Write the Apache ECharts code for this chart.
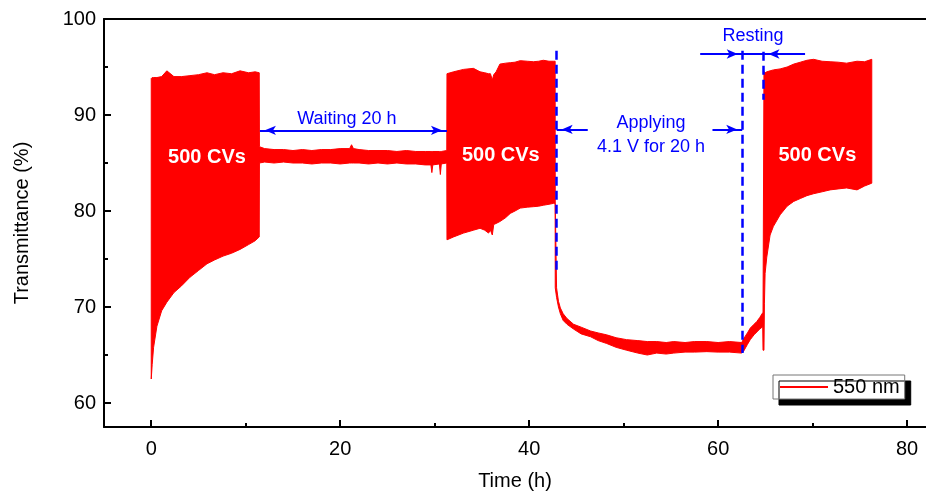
<!DOCTYPE html>
<html>
<head>
<meta charset="utf-8">
<title>Transmittance</title>
<script src="https://cdn.jsdelivr.net/npm/echarts@6/dist/echarts.min.js"></script>
<style>
  html, body { margin: 0; padding: 0; background: #fff; }
  #chart { width: 926px; height: 495px; }
</style>
</head>
<body>
<div id="chart"></div>
<script>
  // envelope of the 550 nm trace (time in h, min / max transmittance in %)
  let envTime = [
    0, 0.1, 0.25, 0.6, 1.1, 1.65, 2.4, 3.2, 4.1, 5.0, 5.9, 6.7, 7.6, 8.5, 9.4, 10.3, 11.0, 11.43,
    11.45, 12, 13, 14, 15, 16, 17, 18, 19, 20, 21.0, 21.2, 21.4, 22, 23, 24, 25, 26, 27, 28, 29, 29.6, 29.7, 29.8, 30.5, 30.6, 30.7, 31.28,
    31.3, 32.0, 33.05, 34.1, 34.8, 35.3, 35.7, 35.9, 36.1, 36.25, 36.5, 36.9, 37.5, 38.0, 38.5, 39.05, 39.8, 40.45, 41.0, 41.5, 42.1, 42.6, 42.75,
    42.76, 42.9, 43.1, 43.3, 43.6, 44.0, 44.7, 45.5, 46.5, 47.3, 48.2, 49.2, 50.3, 51.5, 52.5, 53.5, 54.5, 55.3, 56.5, 57.5, 58.8, 60.0, 61.2, 62.5,
    62.7, 63.1, 63.4, 63.8, 64.1, 64.4, 64.72,
    64.75, 64.85, 64.9, 64.97, 65.15, 65.5, 65.85, 66.56, 67.3, 68.0, 68.7, 69.4, 70.1, 71.0, 71.85, 72.7, 73.6, 74.7, 75.5, 76.26
  ];
  let envLow = [
    62.5, 64.0, 65.8, 68.0, 69.6, 70.5, 71.5, 72.2, 73.1, 73.8, 74.5, 74.9, 75.3, 75.6, 76.0, 76.5, 76.9, 77.3,
    85.0, 85.1, 85.0, 85.1, 85.0, 85.0, 84.9, 85.0, 85.0, 84.9, 85.0, 85.0, 85.0, 85.0, 84.9, 85.0, 84.9, 85.0, 84.9, 84.9, 84.8, 84.8, 84.0, 84.8, 84.9, 83.8, 84.9, 85.0,
    77.0, 77.3, 77.7, 78.0, 78.2, 78.0, 77.7, 78.0, 77.5, 78.6, 78.7, 78.9, 79.3, 79.75, 80.0, 80.3, 80.4, 80.45, 80.5, 80.6, 80.7, 80.8, 80.8,
    72.0, 71.0, 70.0, 69.3, 68.6, 68.2, 67.7, 67.2, 66.9, 66.5, 66.2, 65.8, 65.5, 65.2, 65.0, 65.2, 65.1, 65.2, 65.3, 65.3, 65.35, 65.3, 65.3, 65.2,
    65.4, 66.1, 66.6, 67.1, 67.4, 67.7, 67.95,
    65.5, 65.5, 70.4, 73.5, 75.2, 77.5, 78.4, 79.6, 80.5, 81.0, 81.3, 81.6, 81.8, 82.0, 82.2, 82.3, 82.4, 82.2, 82.6, 82.9
  ];
  let envHigh = [
    93.8, 93.9, 93.9, 93.9, 94.0, 94.6, 94.0, 94.0, 94.1, 94.2, 94.4, 94.2, 94.4, 94.3, 94.6, 94.4, 94.5, 94.4,
    86.7, 86.5, 86.4, 86.4, 86.3, 86.4, 86.3, 86.4, 86.4, 86.5, 86.5, 86.9, 86.5, 86.4, 86.3, 86.3, 86.3, 86.2, 86.3, 86.2, 86.2, 86.2, 86.2, 86.2, 86.2, 86.2, 86.2, 86.3,
    94.3, 94.5, 94.75, 94.86, 94.5, 94.4, 94.3, 94.3, 93.65, 94.2, 94.5, 95.3, 95.4, 95.45, 95.5, 95.66, 95.6, 95.55, 95.6, 95.7, 95.6, 95.6, 95.6,
    80.8, 72.0, 70.6, 69.9, 69.3, 68.8, 68.2, 67.9, 67.5, 67.3, 67.1, 66.8, 66.6, 66.5, 66.4, 66.4, 66.3, 66.4, 66.3, 66.4, 66.4, 66.3, 66.4, 66.3,
    66.7, 67.3, 67.8, 68.2, 68.5, 68.9, 69.4,
    69.4, 94.5, 94.5, 94.4, 94.5, 94.6, 94.7, 94.8, 95.0, 95.3, 95.5, 95.7, 95.8, 95.6, 95.55, 95.5, 95.4, 95.6, 95.55, 95.8
  ];

  // tick labels
  let xMajor = [0, 20, 40, 60, 80];
  let xMinor = [10, 30, 50, 70];
  let yMajor = [60, 70, 80, 90, 100];
  let yMinor = [65, 75, 85, 95];

  // marker times (h)
  let cvEnds = [42.86, 62.6, 64.8];

  let font = '"Liberation Sans", Arial, sans-serif';
  let blue = '#0000ff';

  let chart = echarts.init(document.getElementById('chart'));

  let rows = envTime.map((t, i) => [t, envLow[i], envHigh[i]]);

  // one filled polygon: upper edge forward, lower edge back
  function renderEnvelope (params, api) {
    if (params.dataIndex !== 0) return null;
    let top = [];
    let bottom = [];
    for (let i = 0; i < rows.length; i++) {
      top.push(api.coord([rows[i][0], rows[i][2]]));
      bottom.push(api.coord([rows[i][0], rows[i][1]]));
    }
    return {
      type: 'polygon',
      shape: { points: top.concat(bottom.reverse()) },
      style: { fill: '#ff0000', stroke: '#ff0000', lineWidth: 1 }
    };
  }

  function arrow (from, to, both) {
    let end = { coord: to, symbol: 'arrow', symbolSize: [7, 11], symbolOffset: [0, 5] };
    let start = both
      ? { coord: from, symbol: 'arrow', symbolSize: [7, 11], symbolOffset: [0, 5] }
      : { coord: from, symbol: 'none' };
    return [start, end];
  }

  function dashed (t, y0, y1) {
    return [
      { coord: [t, y0], symbol: 'none', lineStyle: { type: [9, 5], width: 2.5, color: blue } },
      { coord: [t, y1], symbol: 'none' }
    ];
  }

  function note (name, coord, style) {
    return {
      name: name,
      coord: coord,
      label: Object.assign({ show: true, position: 'inside', formatter: '{b}', fontFamily: font }, style)
    };
  }

  let blueText = { color: blue, fontSize: 18, lineHeight: 24 };
  let whiteText = { color: '#fff', fontSize: 20, fontWeight: 'bold' };

  let axisText = { color: '#000', fontSize: 20, fontFamily: font };
  let axisLine = { onZero: false, lineStyle: { color: '#000', width: 2 } };

  let option = {
    animation: false,
    backgroundColor: '#fff',
    grid: { left: 104, right: 0, top: 19, bottom: 68, containLabel: false, outerBoundsMode: 'none' },
    legend: {
      left: 773,
      top: 375,
      padding: [2, 5, 2, 7],
      itemWidth: 48,
      itemHeight: 2,
      backgroundColor: '#fff',
      borderColor: '#777',
      borderWidth: 1,
      shadowColor: '#000',
      shadowBlur: 0,
      shadowOffsetX: 6,
      shadowOffsetY: 6,
      selectedMode: false,
      textStyle: axisText,
      data: [{ name: '550 nm', icon: 'rect' }]
    },
    xAxis: [
      {
        type: 'value', min: -5, max: 82, position: 'bottom',
        name: 'Time (h)', nameLocation: 'middle', nameGap: 44, nameTextStyle: axisText,
        axisLine: axisLine,
        axisTick: { inside: true, length: 7, customValues: xMajor, lineStyle: { color: '#000', width: 2 } },
        axisLabel: Object.assign({ customValues: xMajor, margin: 12 }, axisText),
        splitLine: { show: false }
      },
      {
        type: 'value', min: -5, max: 82, position: 'bottom',
        axisLine: { show: false, onZero: false },
        axisTick: { inside: true, length: 4, customValues: xMinor, lineStyle: { color: '#000', width: 2 } },
        axisLabel: { show: false },
        splitLine: { show: false }
      },
      {
        type: 'value', min: -5, max: 82, position: 'top',
        axisLine: axisLine,
        axisTick: { show: false },
        axisLabel: { show: false },
        splitLine: { show: false }
      }
    ],
    yAxis: [
      {
        type: 'value', min: 57.5, max: 100, position: 'left',
        name: 'Transmittance (%)', nameLocation: 'middle', nameGap: 72, nameTextStyle: axisText,
        axisLine: axisLine,
        axisTick: { inside: true, length: 7, customValues: yMajor, lineStyle: { color: '#000', width: 2 } },
        axisLabel: Object.assign({ customValues: yMajor, margin: 8 }, axisText),
        splitLine: { show: false }
      },
      {
        type: 'value', min: 57.5, max: 100, position: 'left',
        axisLine: { show: false, onZero: false },
        axisTick: { inside: true, length: 4, customValues: yMinor, lineStyle: { color: '#000', width: 2 } },
        axisLabel: { show: false },
        splitLine: { show: false }
      }
    ],
    series: [
      {
        name: '550 nm',
        type: 'custom',
        xAxisIndex: 0,
        yAxisIndex: 0,
        z: 2,
        itemStyle: { color: '#ff0000' },
        renderItem: renderEnvelope,
        encode: { x: 0, y: [1, 2] },
        data: rows
      },
      {
        name: 'notes',
        type: 'line',
        xAxisIndex: 0,
        yAxisIndex: 0,
        z: 5,
        data: [],
        markLine: {
          silent: true,
          symbol: 'none',
          label: { show: false },
          lineStyle: { color: blue, width: 2, type: 'solid' },
          data: [
            dashed(cvEnds[0], 96.7, 73.6),
            dashed(cvEnds[1], 96.7, 65.2),
            dashed(cvEnds[2], 96.6, 91.6),
            arrow([11.5, 88.4], [31.3, 88.4], true),
            arrow([46.2, 88.5], [cvEnds[0] + 0.05, 88.5]),
            arrow([59.4, 88.5], [cvEnds[1] - 0.05, 88.5]),
            arrow([58.1, 96.35], [cvEnds[1], 96.35]),
            arrow([69.2, 96.35], [cvEnds[2], 96.35]),
            [{ coord: [cvEnds[1], 96.35], symbol: 'none' }, { coord: [cvEnds[2], 96.35], symbol: 'none' }]
          ]
        },
        markPoint: {
          silent: true,
          symbol: 'circle',
          symbolSize: 1,
          itemStyle: { color: 'rgba(0,0,0,0)' },
          data: [
            note('Waiting 20 h', [20.7, 89.6], blueText),
            note('Applying\n4.1 V for 20 h', [52.9, 87.95], blueText),
            note('Resting', [63.7, 98.2], blueText),
            note('500 CVs', [5.9, 85.6], whiteText),
            note('500 CVs', [37.0, 85.8], whiteText),
            note('500 CVs', [70.5, 85.8], whiteText)
          ]
        }
      }
    ]
  };

  chart.setOption(option);
</script>
</body>
</html>
